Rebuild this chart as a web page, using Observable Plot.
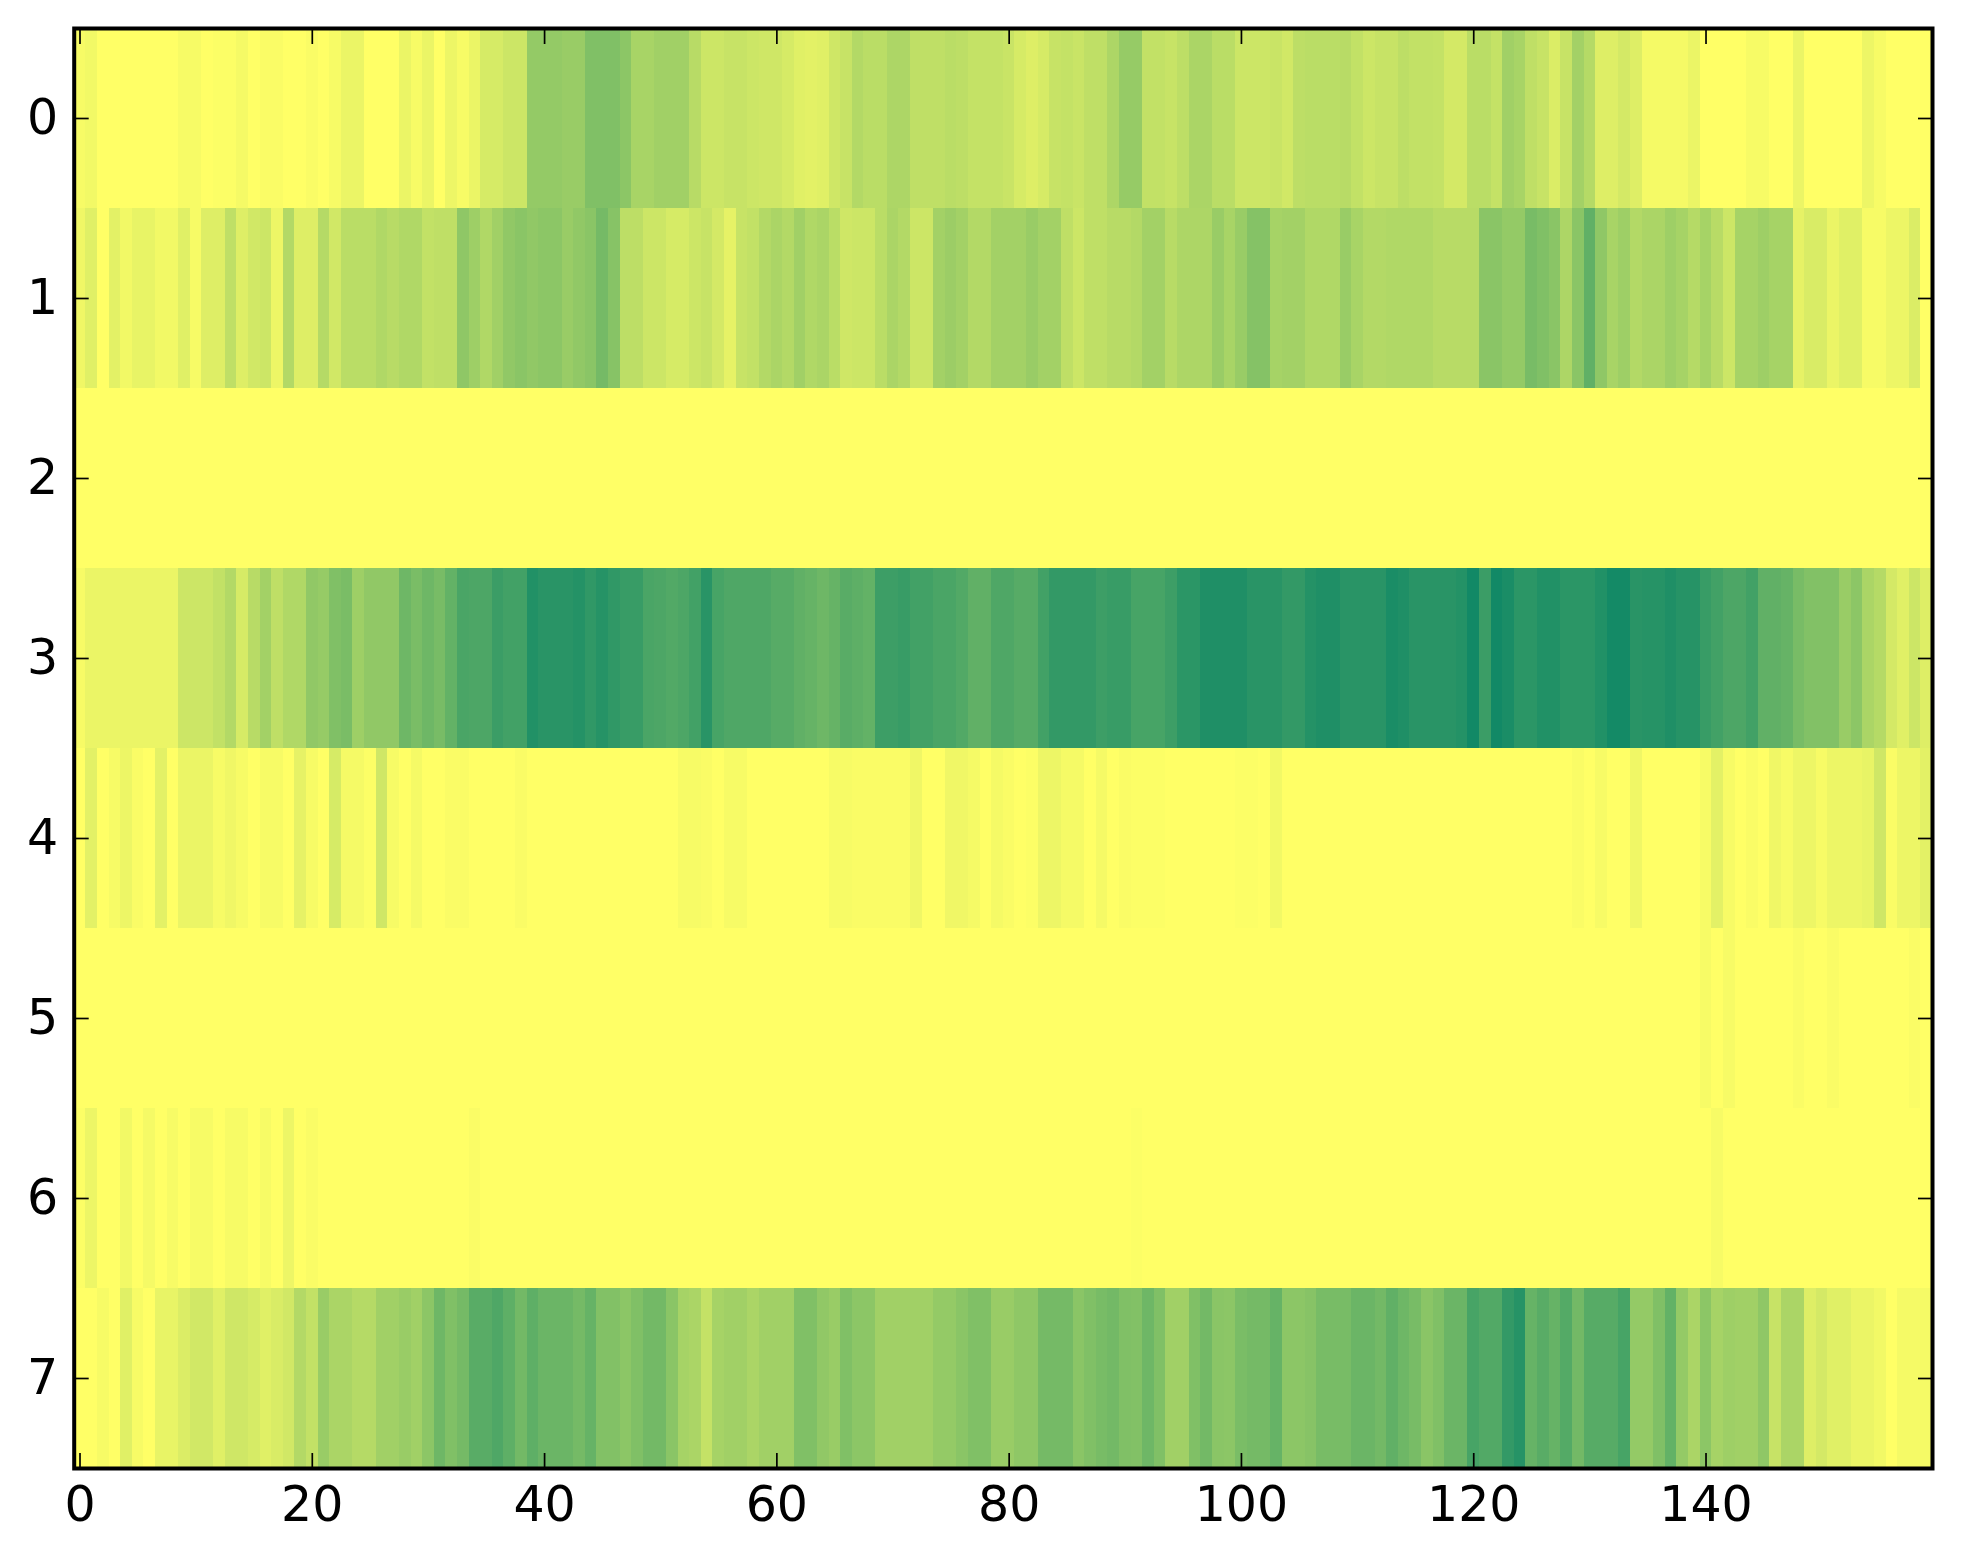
<!DOCTYPE html>
<html>
<head>
<meta charset="utf-8">
<script src="https://cdn.jsdelivr.net/npm/d3@7"></script>
<script src="https://cdn.jsdelivr.net/npm/@observablehq/plot@0.6"></script>
<style>html,body{margin:0;padding:0;background:#fff}svg{display:block}</style>
</head>
<body>
<div id="chart"></div>
<script>
const xTicks = [0,20,40,60,80,100,120,140];
const yTicks = [0,1,2,3,4,5,6,7];
const row0 = [3,5,0,0,0,0,0,0,0,3, 3,0,1,1,4,0,2,2,0,0, 2,0,3,8,8,0,0,0,8,3, 8,0,7,3,8,16,16,20,20,42,
  42,42,40,40,50,50,50,45,34,34, 37,37,37,28,20,20,22,22,20,19, 19,16,12,11,12,19,22,30,27,27, 32,32,25,25,25,27,26,23,23,23,
  21,16,13,16,22,23,21,25,25,32, 41,41,24,24,22,26,33,33,27,27, 20,20,20,21,18,26,27,27,27,28, 24,20,22,22,26,24,24,23,17,17,
  27,27,23,37,34,25,22,14,22,36, 29,13,13,17,13,4,4,4,4,8, 0,0,0,0,3,3,0,0,8,0, 0,0,0,0,7,3,0,0,0,0];
const row1 = [6,12,0,11,5,9,9,5,5,12, 3,13,13,25,13,18,20,7,30,13, 13,29,18,27,27,27,31,28,31,31, 24,25,25,44,38,31,37,43,46,43,
  45,45,40,43,46,54,47,26,26,20, 20,16,16,20,22,17,10,22,24,30, 33,30,37,31,33,27,19,20,20,27, 33,30,20,20,36,39,36,30,30,36,
  36,36,40,36,36,25,20,25,25,28, 28,30,36,36,28,32,32,32,40,34, 40,48,48,35,36,36,31,31,31,40, 34,30,30,31,31,31,31,28,28,28,
  28,46,46,42,42,53,50,46,32,46, 62,44,34,38,30,33,33,38,35,29, 35,28,20,35,35,38,35,35,10,15, 15,8,12,12,3,3,7,7,14,0];
const row2 = [0,0,0,0,0,0,0,0,0,0, 0,0,0,0,0,0,0,0,0,0, 0,0,0,0,0,0,0,0,0,0, 0,0,0,0,0,0,0,0,0,0,
  0,0,0,0,0,0,0,0,0,0, 0,0,0,0,0,0,0,0,0,0, 0,0,0,0,0,0,0,0,0,0, 0,0,0,0,0,0,0,0,0,0,
  0,0,0,0,0,0,0,0,0,0, 0,0,0,0,0,0,0,0,0,0, 0,0,0,0,0,0,0,0,0,0, 0,0,0,0,0,0,0,0,0,0,
  0,0,0,0,0,0,0,0,0,0, 0,0,0,0,0,0,0,0,0,0, 0,0,0,0,0,0,0,0,0,0, 0,0,0,0,0,0,0,0,0,0];
const row3 = [3,8,8,8,8,8,8,8,8,20, 20,20,24,30,16,28,36,25,31,31, 43,41,50,52,38,43,43,43,57,52, 57,53,61,71,70,70,77,74,74,87,
  84,84,84,86,81,85,81,78,78,71, 70,68,70,74,84,72,69,69,69,69, 66,66,62,60,57,60,65,63,61,76, 76,78,74,74,71,71,68,62,62,69,
  69,66,66,74,80,80,80,80,76,78, 78,72,72,72,76,83,83,88,88,88, 88,84,84,84,80,80,86,88,88,84, 84,84,84,90,88,84,84,84,84,86,
  93,77,93,90,83,83,87,87,83,83, 83,87,92,92,84,85,85,88,85,85, 78,74,70,70,74,62,62,60,53,49, 49,49,40,45,33,29,17,12,20,13];
const row4 = [0,11,0,3,7,2,0,11,0,8, 8,8,3,6,3,0,3,3,0,10, 3,0,16,4,4,1,19,3,0,4, 0,0,2,2,0,0,0,0,2,0,
  0,0,0,0,0,0,0,0,0,0, 0,0,3,3,2,0,3,3,0,0, 0,0,0,0,0,3,3,2,2,2, 2,2,6,0,0,6,6,4,0,4,
  2,0,1,7,7,4,4,0,4,0, 2,1,1,1,0,0,0,0,0,0, 1,1,0,5,0,0,0,0,0,0, 0,0,0,0,0,0,0,0,0,0,
  0,0,0,0,0,0,0,0,0,2, 0,3,0,0,6,0,0,0,0,0, 3,11,3,0,2,0,6,3,7,7, 3,7,7,7,9,19,2,7,7,11];
const row5 = [0,0,0,0,0,0,0,0,0,0, 0,0,0,0,0,0,0,0,0,0, 0,0,0,0,0,0,0,0,0,0, 0,0,0,0,0,0,0,0,0,0,
  0,0,0,0,0,0,0,0,0,0, 0,0,0,0,0,0,0,0,0,0, 0,0,0,0,0,0,0,0,0,0, 0,0,0,0,0,0,0,0,0,0,
  0,0,0,0,0,0,0,0,0,0, 0,0,0,0,0,0,0,0,0,0, 0,0,0,0,0,0,0,0,0,0, 0,0,0,0,0,0,0,0,0,0,
  0,0,0,0,0,0,0,0,0,0, 0,0,0,0,0,0,0,0,0,0, 3,0,3,0,0,0,0,0,2,0, 0,2,0,0,0,0,0,0,2,0];
const row6 = [1,7,0,0,5,0,4,0,3,0, 3,3,0,3,3,0,3,0,7,0, 2,0,0,0,0,0,0,0,0,0, 0,0,0,0,2,0,0,0,0,0,
  0,0,0,0,0,0,0,0,0,0, 0,0,0,0,0,0,0,0,0,0, 0,0,0,0,0,0,0,0,0,0, 0,0,0,0,0,0,0,0,0,0,
  0,0,0,0,0,0,0,0,0,0, 0,1,0,0,0,0,0,0,0,0, 0,0,0,0,0,0,0,0,0,0, 0,0,0,0,0,0,0,0,0,0,
  0,0,0,0,0,0,0,0,0,0, 0,0,0,0,0,0,0,0,0,0, 0,3,0,0,0,0,0,0,0,0, 0,0,0,0,0,0,0,0,0,0];
const row7 = [0,0,3,0,12,3,0,9,9,14, 18,18,12,19,19,16,12,15,18,30, 24,40,33,33,29,29,37,37,40,37, 45,57,50,54,65,65,69,63,55,63,
  58,58,58,54,60,49,49,45,50,55, 55,46,35,33,23,35,37,37,33,37, 37,37,50,50,43,40,50,45,45,37, 37,37,37,37,42,42,46,50,50,40,
  40,44,44,54,54,54,46,50,53,55, 50,49,57,50,37,37,50,55,46,45, 52,54,54,60,45,45,47,53,53,53, 58,58,55,62,57,53,46,50,58,58,
  72,68,68,80,85,60,65,60,67,55, 66,66,66,72,42,42,50,61,42,33, 45,35,38,37,37,44,22,33,33,13, 17,12,12,8,8,5,0,4,4,4];

const rows = [row0,row1,row2,row3,row4,row5,row6,row7];
const cells = rows.flatMap((r, y) => r.map((v, x) => ({x, y, v: v / 100})));

const chart = Plot.plot({
  width: 1963, height: 1564,
  marginLeft: 73.7, marginRight: 31, marginTop: 28, marginBottom: 96,
  style: {fontFamily: "'DejaVu Sans', sans-serif", background: "#fff", color: "#000"},
  x: {domain: [-0.5, 159.5], axis: null},
  y: {domain: [7.5, -0.5], axis: null},
  color: {type: "linear", domain: [0, 1], range: ["#ffff66", "#008066"]},
  marks: [
    Plot.rect(cells, {x1: d => d.x - 0.5, x2: d => d.x + 0.5, y1: d => d.y - 0.5, y2: d => d.y + 0.5, fill: "v", shapeRendering: "crispEdges"}),
    Plot.axisX({anchor: "bottom", ticks: xTicks, tickSize: -15, tickPadding: 33, fontSize: 49, label: null, strokeWidth: 1.7, tickFormat: d => String(d)}),
    Plot.axisX({anchor: "top", ticks: xTicks, tickSize: -15, label: null, strokeWidth: 1.7, tickFormat: () => ""}),
    Plot.axisY({anchor: "left", ticks: yTicks, tickSize: -15, tickPadding: 31, fontSize: 49, label: null, strokeWidth: 1.7, tickFormat: d => String(d)}),
    Plot.axisY({anchor: "right", ticks: yTicks, tickSize: -15, label: null, strokeWidth: 1.7, tickFormat: () => ""}),
    Plot.frame({stroke: "#000", strokeWidth: 4})
  ]
});
document.getElementById("chart").appendChild(chart);
</script>
</body>
</html>
